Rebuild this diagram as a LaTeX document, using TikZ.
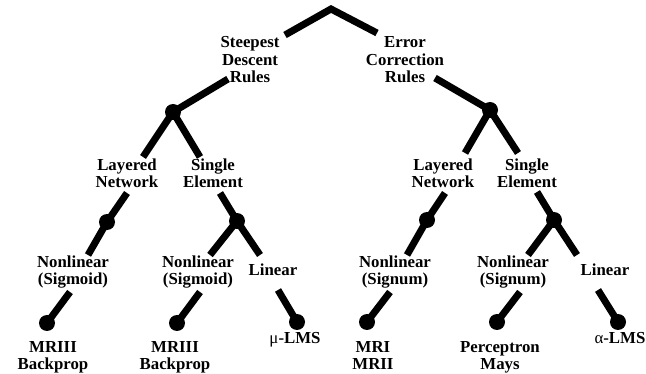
\documentclass[tikz,border=0pt]{standalone}
\usepackage{fontspec}
\setmainfont{Liberation Serif}
\tikzset{
  branch/.style={line width=7pt, black},
  knot/.style={circle, fill=black, inner sep=0pt, minimum size=16pt},
  lbl/.style={align=center, inner sep=0pt, anchor=base, font=\bfseries\fontsize{16.8}{17.5}\selectfont}
}
\begin{document}
\begin{tikzpicture}[x=1pt, y=-1pt]

        \useasboundingbox (0,0) rectangle (646,374);

        % Etichette (ancorate alla linea di base dell'ultima riga)
        \node[lbl] (sdr) at (250,83) {Steepest\\Descent\\Rules};
        \node[lbl] (ecr) at (405,83) {Error\\Correction\\Rules};
        \node[lbl] (lnA) at (127,188) {Layered\\Network};
        \node[lbl] (seA) at (213,188) {Single\\Element};
        \node[lbl] (lnB) at (443,188) {Layered\\Network};
        \node[lbl] (seB) at (527,188) {Single\\Element};
        \node[lbl] (sigA) at (73,285) {Nonlinear\\(Sigmoid)};
        \node[lbl] (sigB) at (198,285) {Nonlinear\\(Sigmoid)};
        \node[lbl] (linA) at (273,276) {Linear};
        \node[lbl] (sgnA) at (395,285) {Nonlinear\\(Signum)};
        \node[lbl] (sgnB) at (513,285) {Nonlinear\\(Signum)};
        \node[lbl] (linB) at (605,276) {Linear};
        \node[lbl] (bpA) at (53,370) {MRIII\\Backprop};
        \node[lbl] (bpB) at (175,370) {MRIII\\Backprop};
        \node[lbl] (mulms) at (295,344) {{\mdseries μ}-LMS};
        \node[lbl] (mri) at (373,370) {MRI\\MRII};
        \node[lbl] (perc) at (500,370) {Perceptron\\Mays};
        \node[lbl] (alms) at (620,344) {{\mdseries α}-LMS};

        % Nodi
        \node[knot] (kL) at (173,112) {};
        \node[knot] (kR) at (490,110) {};
        \node[knot] (kA) at (107,222) {};
        \node[knot] (kB) at (237,221) {};
        \node[knot] (kC) at (427,220) {};
        \node[knot] (kD) at (554,220) {};
        \node[knot] (fA) at (47,323) {};
        \node[knot] (fB) at (177,323) {};
        \node[knot] (fC) at (297,322) {};
        \node[knot] (fD) at (367,322) {};
        \node[knot] (fE) at (497,322) {};
        \node[knot] (fF) at (618,322) {};

        % Estremi liberi
        \coordinate (apex) at (331,9);
        \coordinate (apexL) at (285,35);
        \coordinate (apexR) at (377,33);
        \coordinate (eSdr) at (228,79);
        \coordinate (eEcr) at (435,78);
        \coordinate (eLnA) at (143,157);
        \coordinate (eSeA) at (200,157);
        \coordinate (eLnB) at (465,153);
        \coordinate (eSeB) at (518,153);
        \coordinate (uA) at (127,193);
        \coordinate (dA) at (88,255);
        \coordinate (uB) at (220,193);
        \coordinate (dB1) at (210,255);
        \coordinate (dB2) at (260,255);
        \coordinate (uC) at (445,193);
        \coordinate (dC) at (407,255);
        \coordinate (uD) at (537,192);
        \coordinate (dD1) at (528,255);
        \coordinate (dD2) at (577,255);
        \coordinate (tA) at (70,292);
        \coordinate (tB) at (200,292);
        \coordinate (tC) at (278,290);
        \coordinate (tD) at (390,292);
        \coordinate (tE) at (520,292);
        \coordinate (tF) at (598,290);

        % Rami
        \draw[branch, miter limit=10] (apexL) -- (apex) -- (apexR);
        \draw[branch] (kL.center) -- (eSdr);
        \draw[branch] (kR.center) -- (eEcr);
        \draw[branch] (kL.center) -- (eLnA);
        \draw[branch] (kL.center) -- (eSeA);
        \draw[branch] (kR.center) -- (eLnB);
        \draw[branch] (kR.center) -- (eSeB);
        \draw[branch] (uA) -- (kA.center) -- (dA);
        \draw[branch] (uB) -- (kB.center) -- (dB1);
        \draw[branch] (kB.center) -- (dB2);
        \draw[branch] (uC) -- (kC.center) -- (dC);
        \draw[branch] (uD) -- (kD.center) -- (dD1);
        \draw[branch] (kD.center) -- (dD2);
        \draw[branch] (fA.center) -- (tA);
        \draw[branch] (fB.center) -- (tB);
        \draw[branch] (fC.center) -- (tC);
        \draw[branch] (fD.center) -- (tD);
        \draw[branch] (fE.center) -- (tE);
        \draw[branch] (fF.center) -- (tF);

        \end{tikzpicture}
\end{document}
